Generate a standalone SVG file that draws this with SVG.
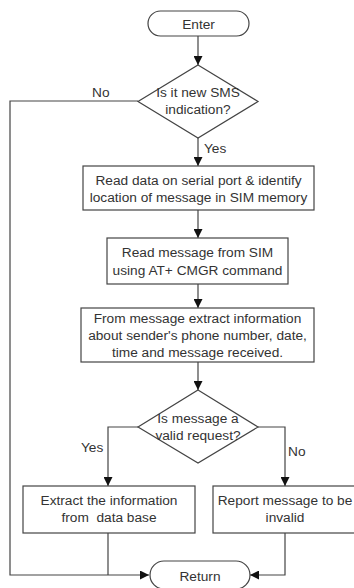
<svg xmlns="http://www.w3.org/2000/svg" width="354" height="588" viewBox="0 0 354 588">
<style>
.s{fill:#fff;stroke:#444;stroke-width:1.2}
.c{fill:none;stroke:#444;stroke-width:1.2}
text{font-family:"Liberation Sans",Arial,sans-serif;font-size:13.7px;fill:#333;text-anchor:middle}
.l{text-anchor:start}
</style>
<defs>
<marker id="a" viewBox="0 0 10 10" refX="10" refY="5" markerWidth="10" markerHeight="9" markerUnits="userSpaceOnUse" orient="auto">
<path d="M0,0L10,5L0,10z" fill="#111"/>
</marker>
</defs>
<rect width="354" height="588" fill="#fff"/>
<g id="connectors">
<path class="c" d="M198,36V65" marker-end="url(#a)"/>
<path class="c" d="M198,138V166" marker-end="url(#a)"/>
<path class="c" d="M198,210V238" marker-end="url(#a)"/>
<path class="c" d="M198,284V308" marker-end="url(#a)"/>
<path class="c" d="M198,362V390" marker-end="url(#a)"/>
<path class="c" d="M138,427H108V486" marker-end="url(#a)"/>
<path class="c" d="M258,427H285V486" marker-end="url(#a)"/>
<path class="c" d="M138,101H10V575H149" marker-end="url(#a)"/>
<path class="c" d="M108,533V575"/>
<path class="c" d="M285,533V575H250" marker-end="url(#a)"/>
<text class="l" x="92" y="97">No</text>
<text class="l" x="204" y="153">Yes</text>
<text class="l" x="81" y="452">Yes</text>
<text class="l" x="288" y="456">No</text>
</g>
<g id="enter">
<rect class="s" x="148" y="11" width="101" height="25" rx="12.5"/>
<text x="198.5" y="28.5">Enter</text>
</g>
<g id="d1">
<path class="s" d="M198,65L258,101.5L198,138L138,101.5z"/>
<text x="198" y="97">Is it new SMS</text>
<text x="198" y="114">indication?</text>
</g>
<g id="b1">
<rect class="s" x="83" y="166" width="231" height="44"/>
<text x="198.5" y="185">Read data on serial port &amp; identify</text>
<text x="198.5" y="202">location of message in SIM memory</text>
</g>
<g id="b2">
<rect class="s" x="107" y="238" width="181" height="46"/>
<text x="197.5" y="257">Read message from SIM</text>
<text x="197.5" y="275">using AT+ CMGR command</text>
</g>
<g id="b3">
<rect class="s" x="81" y="308" width="233" height="54"/>
<text x="197.5" y="323">From message extract information</text>
<text x="197.5" y="340">about sender's phone number, date,</text>
<text x="197.5" y="357">time and message received.</text>
</g>
<g id="d2">
<path class="s" d="M198,390L258,427L198,463L138,427z"/>
<text x="198" y="423">Is message a</text>
<text x="198" y="440">valid request?</text>
</g>
<g id="b4">
<rect class="s" x="23" y="486" width="172" height="47"/>
<text x="109" y="505">Extract the information</text>
<text x="109" y="522" xml:space="preserve">from  data base</text>
</g>
<g id="b5">
<rect class="s" x="213" y="486" width="144" height="47"/>
<text x="285" y="505">Report message to be</text>
<text x="285" y="522">invalid</text>
</g>
<g id="return">
<rect class="s" x="150" y="561" width="100" height="28" rx="14"/>
<text x="200" y="581">Return</text>
</g>
</svg>
